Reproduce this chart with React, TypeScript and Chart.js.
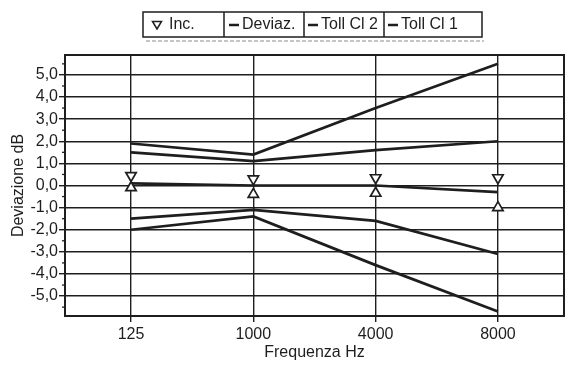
import React, { useEffect, useRef } from "react";
import { Chart, registerables } from "chart.js";

Chart.register(...registerables);

// ---- data ----
const frequencies = ["125", "1000", "4000", "8000"];
const deviazione = [0.1, 0.0, 0.0, -0.3];
const incSopra = [0.45, 0.3, 0.35, 0.35];
const incSotto = [-0.1, -0.4, -0.35, -1.0];
const tollCl1Sup = [1.5, 1.1, 1.6, 2.0];
const tollCl1Inf = [-1.5, -1.1, -1.6, -3.1];
const tollCl2Sup = [1.9, 1.4, 3.5, 5.5];
const tollCl2Inf = [-2.0, -1.4, -3.6, -5.7];
const yTickValues = [-5, -4, -3, -2, -1, 0, 1, 2, 3, 4, 5];
const yMinorTicks = [-5.5, -4.5, -3.5, -2.5, -1.5, -0.5, 0.5, 1.5, 2.5, 3.5, 4.5, 5.5];
const legendLabels = ["Inc.", "Deviaz.", "Toll Cl 2", "Toll Cl 1"];
const yTitle = "Deviazione dB";
const xTitle = "Frequenza Hz";

const INK = "#1e1e1e";
const FONT = "Liberation Sans, Arial, sans-serif";

const toPoints = (arr: number[]) => arr.map((v, i) => ({ x: i, y: v }));

const framePlugin = {
  id: "frame",
  afterDraw(chart: any) {
    const { ctx, chartArea: a, scales } = chart;
    ctx.save();
    ctx.strokeStyle = INK;
    ctx.lineWidth = 2;
    ctx.strokeRect(a.left, a.top, a.right - a.left, a.bottom - a.top);
    // minor ticks on the y axis
    ctx.lineWidth = 1.3;
    for (const v of yMinorTicks) {
      const y = scales.y.getPixelForValue(v);
      ctx.beginPath();
      ctx.moveTo(a.left - 3, y);
      ctx.lineTo(a.left, y);
      ctx.stroke();
    }
    ctx.restore();
  },
};

const legendPlugin = {
  id: "boxLegend",
  afterDraw(chart: any) {
    const { ctx } = chart;
    ctx.save();
    const top = 12;
    const h = 25;
    const cells = [143, 224, 304, 384, 482];
    ctx.strokeStyle = INK;
    ctx.lineWidth = 1.5;
    ctx.strokeRect(cells[0], top, cells[4] - cells[0], h);
    for (let i = 1; i < 4; i++) {
      ctx.beginPath();
      ctx.moveTo(cells[i], top);
      ctx.lineTo(cells[i], top + h);
      ctx.stroke();
    }
    // faint shadow line under the legend
    ctx.strokeStyle = "#8a8a8a";
    ctx.lineWidth = 1;
    ctx.setLineDash([4, 2]);
    ctx.beginPath();
    ctx.moveTo(146, top + h + 4);
    ctx.lineTo(484, top + h + 4);
    ctx.stroke();
    ctx.setLineDash([]);

    const cy = top + h / 2 + 0.5;
    ctx.font = `16px ${FONT}`;
    ctx.textBaseline = "middle";
    ctx.textAlign = "left";
    // Inc. marker (down triangle)
    ctx.strokeStyle = INK;
    ctx.lineWidth = 1.5;
    ctx.fillStyle = "#fff";
    ctx.beginPath();
    ctx.moveTo(152.5, cy - 3.5);
    ctx.lineTo(161.5, cy - 3.5);
    ctx.lineTo(157, cy + 4);
    ctx.closePath();
    ctx.fill();
    ctx.stroke();
    ctx.fillStyle = INK;
    const textX = [169, 242, 321, 401];
    const lineX = [0, 229, 308, 388];
    legendLabels.forEach((lab, i) => {
      if (i > 0) {
        ctx.lineWidth = 2.5;
        ctx.beginPath();
        ctx.moveTo(lineX[i], cy);
        ctx.lineTo(lineX[i] + 10, cy);
        ctx.stroke();
      }
      ctx.fillText(lab, textX[i], cy);
    });
    ctx.restore();
  },
};

export default function App() {
  const canvasRef = useRef<HTMLCanvasElement | null>(null);

  useEffect(() => {
    document.body.style.margin = "0";
    document.body.style.overflow = "hidden";
    const canvas = canvasRef.current;
    if (!canvas) return;

    const lineDs = (label: string, data: number[]) => ({
      type: "line" as const,
      label,
      data: toPoints(data),
      borderColor: INK,
      borderWidth: 2.7,
      pointRadius: 0,
      fill: false,
      tension: 0,
    });

    const markerDs = (label: string, data: number[], rotation: number) =>
      ({
        label,
        data: toPoints(data),
        showLine: false,
        pointStyle: "triangle",
        rotation,
        pointRadius: 6,
        pointBackgroundColor: "#fff",
        pointBorderColor: INK,
        pointBorderWidth: 1.7,
      }) as any;

    const chart = new Chart(canvas, {
      type: "line",
      data: {
        datasets: [
          markerDs(legendLabels[0], incSopra, 180),
          markerDs(legendLabels[0] + " -", incSotto, 0),
          lineDs(legendLabels[1], deviazione),
          lineDs(legendLabels[2], tollCl2Sup),
          lineDs(legendLabels[2] + " -", tollCl2Inf),
          lineDs(legendLabels[3], tollCl1Sup),
          lineDs(legendLabels[3] + " -", tollCl1Inf),
        ],
      },
      options: {
        animation: false,
        responsive: false,
        layout: { padding: { top: 55, right: 15, left: 0, bottom: 0 } },
        plugins: {
          legend: { display: false },
          tooltip: { enabled: false },
        },
        scales: {
          x: {
            type: "linear",
            min: -0.54,
            max: 3.54,
            afterBuildTicks: (scale: any) => {
              scale.ticks = frequencies.map((_, i) => ({ value: i }));
            },
            afterFit: (scale: any) => {
              scale.height = 49;
            },
            ticks: {
              autoSkip: false,
              padding: 3,
              color: INK,
              font: { family: FONT, size: 16 },
              callback: (v: any) => frequencies[v as number] ?? "",
            },
            grid: { color: INK, lineWidth: 1.4, tickLength: 6, tickColor: INK },
            border: { display: true, color: INK, width: 2 },
            title: {
              display: true,
              text: xTitle,
              color: INK,
              font: { family: FONT, size: 16 },
              padding: { top: 0, bottom: 3 },
            },
          },
          y: {
            type: "linear",
            min: -5.9,
            max: 5.9,
            afterBuildTicks: (scale: any) => {
              scale.ticks = yTickValues.map((v) => ({ value: v }));
            },
            afterFit: (scale: any) => {
              scale.width = 65;
            },
            ticks: {
              padding: 1,
              color: INK,
              font: { family: FONT, size: 16 },
              callback: (v: any) => Number(v).toFixed(1).replace(".", ","),
            },
            grid: { color: INK, lineWidth: 1.4, tickLength: 6, tickColor: INK },
            border: { display: true, color: INK, width: 2 },
            title: {
              display: true,
              text: yTitle,
              color: INK,
              font: { family: FONT, size: 16 },
              padding: { top: 9, bottom: 0 },
            },
          },
        },
      },
      plugins: [framePlugin, legendPlugin],
    });

    return () => chart.destroy();
  }, []);

  return (
    <div style={{ width: 579, height: 365 }}>
      <canvas ref={canvasRef} width={579} height={365} style={{ display: "block" }} />
    </div>
  );
}
